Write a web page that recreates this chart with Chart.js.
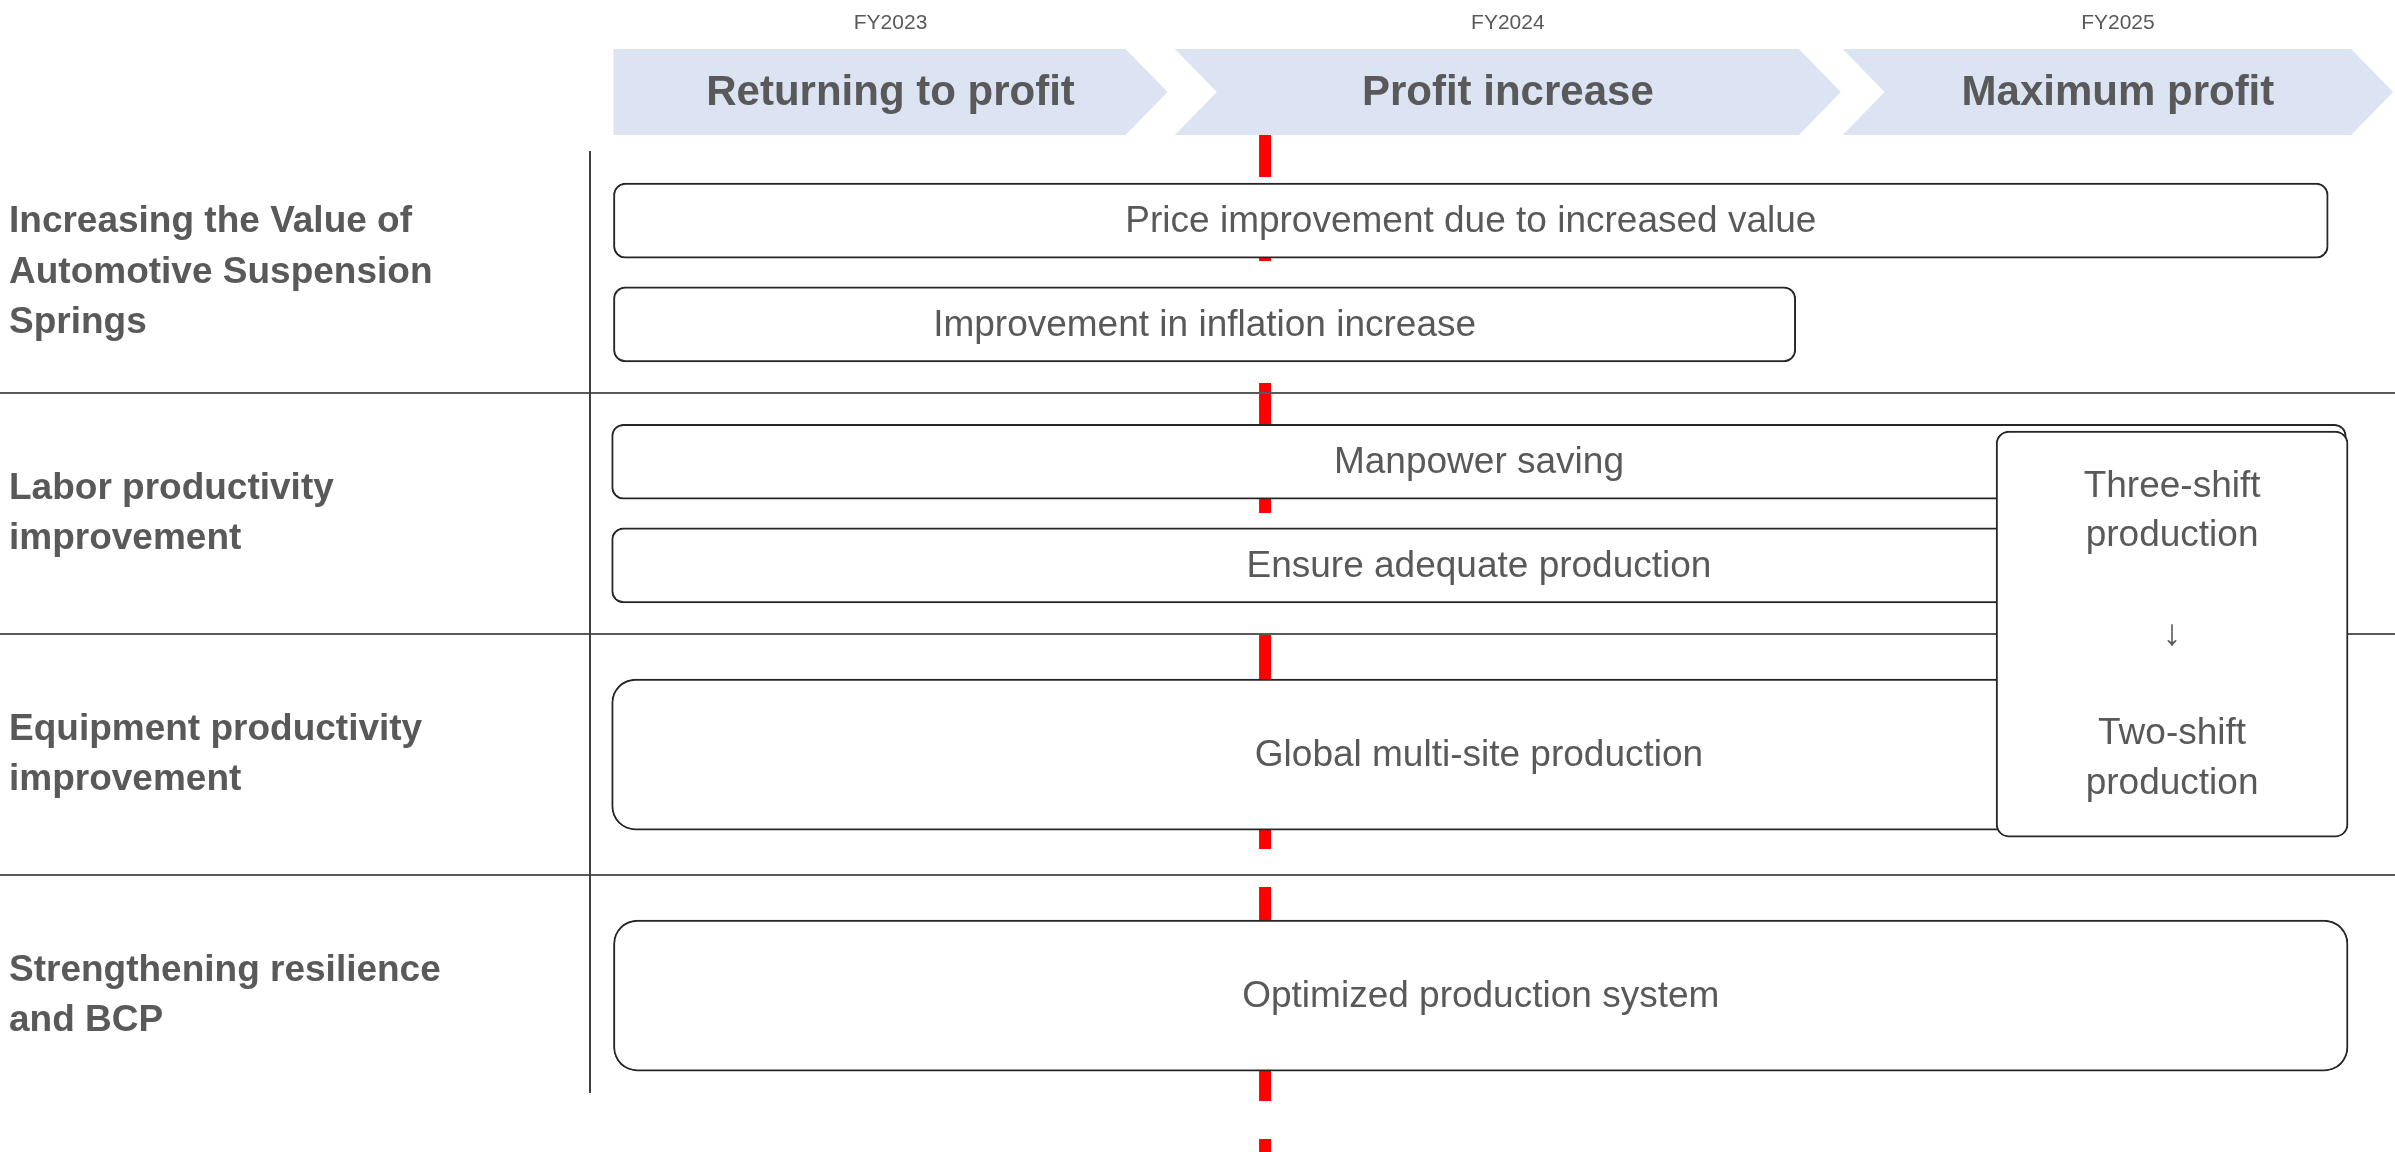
<!DOCTYPE html>
<html>
<head>
<meta charset="utf-8">
<title>Profit roadmap</title>
<script src="https://cdn.jsdelivr.net/npm/chart.js@4.4.1/dist/chart.umd.min.js"></script>
<style>
  body { margin: 0; background: #fff; }
  #wrap { width: 2395px; height: 1152px; }
</style>
</head>
<body>
<div id="wrap"><canvas id="roadmap"></canvas></div>
<script>
// Filas (categorías del eje Y)
const rowLabels = [
    ['Increasing the Value of', 'Automotive Suspension', 'Springs'],
    ['Labor productivity', 'improvement'],
    ['Equipment productivity', 'improvement'],
    ['Strengthening resilience', 'and BCP']
];

// Fases de la línea de tiempo (0-100 = ancho del periodo)
const fiscalYears = ['FY2023', 'FY2024', 'FY2025'];
const phaseNames = ['Returning to profit', 'Profit increase', 'Maximum profit'];
const phaseStart = [1.3, 32.4, 69.4];
const phaseEnd = [32.0, 69.3, 99.9];
const nowMark = 37.4;

// Tareas por fila: carril superior, carril inferior, fila completa
const upperTasks = ['Price improvement due to increased value', 'Manpower saving', null, null];
const upperSpan = [[1.3, 96.3], [1.2, 97.3], null, null];
const lowerTasks = ['Improvement in inflation increase', 'Ensure adequate production', null, null];
const lowerSpan = [[1.3, 66.8], [1.2, 97.3], null, null];
const wideTasks = [null, null, 'Global multi-site production', 'Optimized production system'];
const wideSpan = [null, null, [1.2, 97.3], [1.3, 97.4]];
// caja que cruza las filas 2 y 3
const shiftTask = ['Three-shift', 'production', '', '\u2193', '', 'Two-shift', 'production'];
const shiftSpan = [77.9, 97.4];
const shiftRow = 1.5;

const GRAY = '#595959';
const FONT = '"Liberation Sans", Arial, sans-serif';
const LANE = 0.215;

// Convierte las listas por fila en puntos {y, x:[inicio, fin]}
function laneData(spans, tasks, offset) {
    const data = [];
    const texts = [];
    spans.forEach((span, r) => {
        if (!span) return;
        data.push({ y: r + offset, x: span });
        texts.push(tasks[r]);
    });
    return { data, tasks: texts };
}

const roadmapDecor = {
    id: 'roadmapDecor',
    beforeDraw(chart) {
        const { ctx, chartArea, scales: { x } } = chart;
        ctx.save();

        // Línea roja discontinua (posición actual)
        const nx = x.getPixelForValue(nowMark);
        ctx.strokeStyle = '#FF0000';
        ctx.lineWidth = 12;
        ctx.setLineDash([46, 38]);
        ctx.beginPath();
        ctx.moveTo(nx, chartArea.top - 21);
        ctx.lineTo(nx, chart.height);
        ctx.stroke();
        ctx.setLineDash([]);

        // Flechas de fase
        const top = chartArea.top - 103;
        const bottom = chartArea.top - 17;
        const mid = (top + bottom) / 2;
        const tip = 42;
        phaseNames.forEach((name, i) => {
            const x0 = x.getPixelForValue(phaseStart[i]);
            const x1 = x.getPixelForValue(phaseEnd[i]);
            ctx.beginPath();
            ctx.moveTo(x0, top);
            ctx.lineTo(x1 - tip, top);
            ctx.lineTo(x1, mid);
            ctx.lineTo(x1 - tip, bottom);
            ctx.lineTo(x0, bottom);
            if (i > 0) ctx.lineTo(x0 + tip, mid);
            ctx.closePath();
            ctx.fillStyle = '#DCE3F3';
            ctx.fill();

            ctx.fillStyle = GRAY;
            ctx.font = 'bold 42px ' + FONT;
            ctx.textAlign = 'center';
            ctx.textBaseline = 'middle';
            ctx.fillText(name, (x0 + x1) / 2, mid + 1);
        });
        ctx.restore();
    },
    afterDatasetsDraw(chart) {
        const { ctx } = chart;
        ctx.save();
        ctx.fillStyle = GRAY;
        ctx.font = '37px ' + FONT;
        ctx.textAlign = 'center';
        ctx.textBaseline = 'middle';
        chart.data.datasets.forEach((ds, di) => {
            const meta = chart.getDatasetMeta(di);
            (ds.tasks || []).forEach((task, i) => {
                if (!task) return;
                const bar = meta.data[i];
                const cx = (bar.x + bar.base) / 2;
                const lines = Array.isArray(task) ? task : [task];
                const lh = 49.5;
                lines.forEach((line, k) => {
                    ctx.fillText(line, cx, bar.y + (k - (lines.length - 1) / 2) * lh + 1);
                });
            });
        });
        ctx.restore();
    }
};

const boxStyle = {
    grouped: false,
    backgroundColor: '#FFFFFF',
    borderColor: '#262626',
    borderWidth: 2,
    borderSkipped: false,
    order: 1
};

function initChart() {
    const ctx = document.getElementById('roadmap').getContext('2d');

    new Chart(ctx, {
        type: 'bar',
        data: {
            datasets: [
                Object.assign({}, boxStyle, laneData(upperSpan, upperTasks, -LANE),
                    { label: 'upper', borderRadius: 12, barThickness: 75 }),
                Object.assign({}, boxStyle, laneData(lowerSpan, lowerTasks, LANE),
                    { label: 'lower', borderRadius: 12, barThickness: 75 }),
                Object.assign({}, boxStyle, laneData(wideSpan, wideTasks, 0),
                    { label: 'wide', borderRadius: 24, barThickness: 151 }),
                Object.assign({}, boxStyle, {
                    label: 'shift',
                    data: [{ y: shiftRow, x: shiftSpan }],
                    tasks: [shiftTask],
                    borderRadius: 13,
                    barThickness: 406,
                    order: 0
                })
            ]
        },
        options: {
            indexAxis: 'y',
            responsive: true,
            maintainAspectRatio: false,
            animation: false,
            layout: { padding: { left: 9, top: 0, right: 0, bottom: 60 } },
            plugins: {
                legend: { display: false },
                tooltip: { enabled: false }
            },
            scales: {
                x: {
                    type: 'linear',
                    position: 'top',
                    min: 0,
                    max: 100,
                    grid: { display: false, drawTicks: false },
                    border: { display: false },
                    ticks: {
                        color: GRAY,
                        font: { family: FONT, size: 21 },
                        padding: 116,
                        maxRotation: 0,
                        callback: (value, index) => fiscalYears[index]
                    },
                    afterBuildTicks: axis => {
                        axis.ticks = phaseStart.map((s, i) => ({ value: (s + phaseEnd[i]) / 2 }));
                    },
                    afterFit: axis => { axis.height = 152; }
                },
                y: {
                    type: 'linear',
                    position: 'left',
                    min: -0.5,
                    max: rowLabels.length - 0.6,
                    reverse: true,
                    offset: false,
                    grid: {
                        offset: true,
                        lineWidth: 2,
                        tickLength: 590,
                        color: c => (c.type === 'tick' && c.index > 0) ? GRAY : 'rgba(0,0,0,0)'
                    },
                    border: { display: true, color: '#404040', width: 2 },
                    ticks: {
                        autoSkip: false,
                        crossAlign: 'far',
                        color: GRAY,
                        font: { family: FONT, size: 37, weight: 'bold', lineHeight: 1.36 },
                        callback: (value, index) => rowLabels[index]
                    },
                    afterBuildTicks: axis => {
                        axis.ticks = rowLabels.map((l, r) => ({ value: r }));
                    },
                    afterFit: axis => {
                        axis.width = 581;
                        axis.paddingTop = 0;
                        axis.paddingBottom = 0;
                    }
                }
            }
        },
        plugins: [roadmapDecor]
    });
}

document.addEventListener('DOMContentLoaded', initChart);
</script>
</body>
</html>
